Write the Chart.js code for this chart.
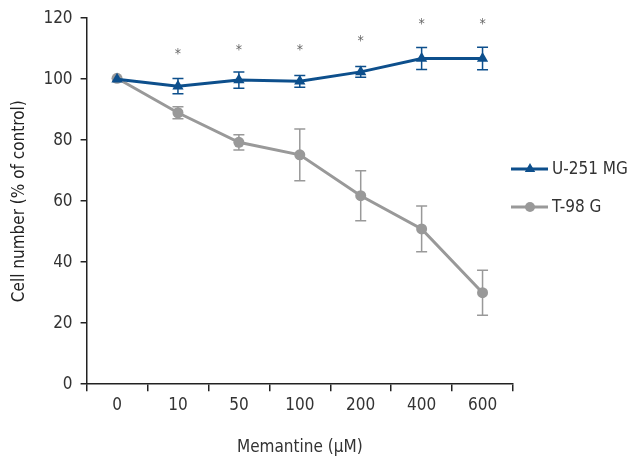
<!DOCTYPE html>
<html lang="en">
<head>
  <meta charset="UTF-8">
  <title>Memantine cell number</title>
  <script src="https://cdn.jsdelivr.net/npm/chart.js"></script>
  <style>
    body { margin: 0; padding: 0; background: #fff; }
    .chart-container { position: relative; width: 633px; height: 467px; }
  </style>
</head>
<body>
  <div class="chart-container">
    <canvas id="cellChart"></canvas>
  </div>
  <script>
    // Values
    const doses = ['0', '10', '50', '100', '200', '400', '600'];
    const u251Mean = [100, 97.7, 99.7, 99.3, 102.4, 106.8, 106.8];
    const u251Err = [0, 2.5, 2.7, 1.9, 1.8, 3.6, 3.7];
    const t98Mean = [100.3, 89.0, 79.3, 75.2, 61.8, 50.9, 30.0];
    const t98Err = [0, 2.0, 2.5, 8.5, 8.2, 7.5, 7.4];
    // asterisk positions (in % of control) above U-251 MG points
    const starLevels = [null, 109, 110.6, 110.6, 113.3, 119, 119];

    const blue = '#0d4f8c';
    const gray = '#999999';
    const fontFamily = '"Liberation Sans Narrow", "Arial Narrow", "DejaVu Sans Condensed", Arial, sans-serif';

    // error bars, asterisks and the legend on the right
    const extrasPlugin = {
      id: 'extras',
      beforeDatasetsDraw(chart) {
        const { ctx, scales } = chart;
        const x = scales.x, y = scales.y;
        const drawBars = (means, errs, color) => {
          ctx.save();
          ctx.strokeStyle = color;
          ctx.lineWidth = 1.5;
          means.forEach((m, i) => {
            if (!errs[i]) return;
            const px = x.getPixelForValue(i);
            const top = y.getPixelForValue(m + errs[i]);
            const bot = y.getPixelForValue(m - errs[i]);
            ctx.beginPath();
            ctx.moveTo(px, top); ctx.lineTo(px, bot);
            ctx.moveTo(px - 5.5, top); ctx.lineTo(px + 5.5, top);
            ctx.moveTo(px - 5.5, bot); ctx.lineTo(px + 5.5, bot);
            ctx.stroke();
          });
          ctx.restore();
        };
        drawBars(t98Mean, t98Err, gray);
        drawBars(u251Mean, u251Err, blue);
      },
      afterDraw(chart) {
        const { ctx, scales, chartArea } = chart;
        ctx.save();
        ctx.fillStyle = '#666';
        ctx.font = '14px ' + fontFamily;
        ctx.textAlign = 'center';
        ctx.textBaseline = 'middle';
        starLevels.forEach((s, i) => {
          if (s === null) return;
          ctx.fillText('*', scales.x.getPixelForValue(i), scales.y.getPixelForValue(s) + 3);
        });

        // legend
        const items = [
          { label: 'U-251 MG', color: blue, style: 'triangle', y: 169 },
          { label: 'T-98 G', color: gray, style: 'circle', y: 207 }
        ];
        const lx = chartArea.right - 2;
        items.forEach(it => {
          ctx.strokeStyle = it.color;
          ctx.lineWidth = 3;
          ctx.beginPath();
          ctx.moveTo(lx, it.y); ctx.lineTo(lx + 37, it.y);
          ctx.stroke();
          ctx.fillStyle = it.color;
          Chart.helpers.drawPoint(ctx, { pointStyle: it.style, radius: it.style === 'triangle' ? 6 : 5, borderWidth: 0 }, lx + 19, it.y);
          ctx.fillStyle = '#333';
          ctx.font = '17px ' + fontFamily;
          ctx.textAlign = 'left';
          ctx.fillText(it.label, lx + 41, it.y + 1);
        });
        ctx.restore();
      }
    };

    new Chart(document.getElementById('cellChart'), {
      type: 'line',
      data: {
        labels: doses,
        datasets: [
          {
            label: 'U-251 MG',
            data: u251Mean,
            borderColor: blue,
            backgroundColor: blue,
            borderWidth: 3,
            pointStyle: 'triangle',
            pointRadius: 6.5,
            pointBorderWidth: 0,
            order: 0
          },
          {
            label: 'T-98 G',
            data: t98Mean,
            borderColor: gray,
            backgroundColor: gray,
            borderWidth: 3,
            pointStyle: 'circle',
            pointRadius: 5.5,
            pointBorderWidth: 0,
            order: 1
          }
        ]
      },
      options: {
        responsive: true,
        maintainAspectRatio: false,
        animation: false,
        layout: { padding: { top: 15, right: 120, left: 5, bottom: 5 } },
        plugins: {
          legend: { display: false },
          tooltip: { enabled: false }
        },
        scales: {
          x: {
            offset: true,
            grid: { offset: true, drawOnChartArea: false, tickLength: 7, color: '#222', lineWidth: 1.5 },
            border: { color: '#222', width: 1.5 },
            ticks: { color: '#333', font: { family: fontFamily, size: 17 }, padding: 4 },
            title: { display: true, text: 'Memantine (μM)', color: '#333', font: { family: fontFamily, size: 17 }, padding: { top: 18 } }
          },
          y: {
            min: 0,
            max: 120,
            ticks: { stepSize: 20, color: '#333', font: { family: fontFamily, size: 17 }, padding: 8 },
            grid: { drawOnChartArea: false, tickLength: 6, color: '#222', lineWidth: 1.5 },
            border: { color: '#222', width: 1.5 },
            title: { display: true, text: 'Cell number (% of control)', color: '#222', font: { family: fontFamily, size: 17 }, padding: { bottom: 6 } }
          }
        }
      },
      plugins: [extrasPlugin]
    });
  </script>
</body>
</html>
